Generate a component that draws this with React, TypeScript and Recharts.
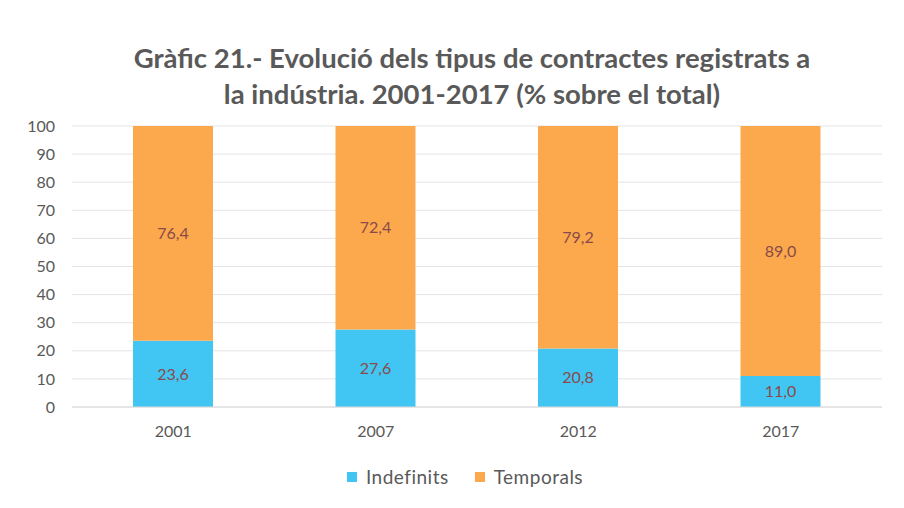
import { BarChart, Bar, XAxis, YAxis, CartesianGrid, LabelList } from "recharts";

const YEARS = ["2001", "2007", "2012", "2017"];
const INDEFINITS = [23.6, 27.6, 20.8, 11.0];
const TEMPORALS = [76.4, 72.4, 79.2, 89.0];
const Y_TICKS = [0, 10, 20, 30, 40, 50, 60, 70, 80, 90, 100];

const BLUE = "#41c6f3";
const ORANGE = "#fba94c";
const TEXT = "#595959";
const LABEL = "#8a4a4a";
const FONT = "Lato, 'Open Sans', sans-serif";

const data = YEARS.map((year, i) => ({
  year,
  indefinits: INDEFINITS[i],
  temporals: TEMPORALS[i],
}));

const fmt = (v: any) => Number(v).toFixed(1).replace(".", ",");

export default function App() {
  return (
    <div
      style={{
        position: "absolute",
        left: 0,
        top: 0,
        width: 904,
        height: 508,
        background: "#ffffff",
        fontFamily: FONT,
        overflow: "hidden",
      }}
    >
      <div
        style={{
          position: "absolute",
          left: 0,
          top: 40,
          width: 944,
          textAlign: "center",
          fontSize: 27.5,
          fontWeight: 700,
          lineHeight: "36px",
          color: TEXT,
        }}
      >
        Gràfic 21.- Evolució dels tipus de contractes registrats a
        <br />
        la indústria. 2001-2017 (% sobre el total)
      </div>

      <div style={{ position: "absolute", left: 0, top: 0 }}>
        <BarChart
          width={904}
          height={508}
          data={data}
          margin={{ top: 126, right: 22, bottom: 71, left: 22 }}
          barSize={80}
        >
          <CartesianGrid vertical={false} stroke="#e4e4e4" />
          <XAxis
            dataKey="year"
            tickLine={false}
            axisLine={{ stroke: "#d9d9d9" }}
            tick={{ fill: TEXT, fontSize: 16, fontFamily: FONT }}
            tickMargin={13}
            height={30}
          />
          <YAxis
            domain={[0, 100]}
            ticks={Y_TICKS}
            interval={0}
            tickLine={false}
            axisLine={false}
            width={50}
            tickMargin={11}
            tick={{ fill: TEXT, fontSize: 16, fontFamily: FONT }}
          />
          <Bar dataKey="indefinits" stackId="a" fill={BLUE} isAnimationActive={false}>
            <LabelList
              dataKey="indefinits"
              position="center"
              formatter={fmt}
              style={{ fill: LABEL, fontSize: 16, fontFamily: FONT }}
            />
          </Bar>
          <Bar dataKey="temporals" stackId="a" fill={ORANGE} isAnimationActive={false}>
            <LabelList
              dataKey="temporals"
              position="center"
              formatter={fmt}
              style={{ fill: LABEL, fontSize: 16, fontFamily: FONT }}
            />
          </Bar>
        </BarChart>
      </div>

      {/* Legend */}
      <div
        style={{
          position: "absolute",
          left: 0,
          top: 466,
          width: 930,
          display: "flex",
          justifyContent: "center",
          gap: 26,
          fontSize: 19,
          color: TEXT,
          lineHeight: "22px",
          letterSpacing: 0.5,
        }}
      >
        {[
          { name: "Indefinits", color: BLUE },
          { name: "Temporals", color: ORANGE },
        ].map((s) => (
          <div key={s.name} style={{ display: "flex", alignItems: "center", gap: 9 }}>
            <span style={{ display: "inline-block", width: 10, height: 10, background: s.color }} />
            {s.name}
          </div>
        ))}
      </div>
    </div>
  );
}
